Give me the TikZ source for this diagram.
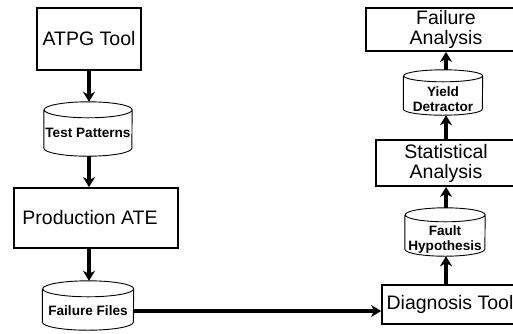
\documentclass[tikz,border=0pt]{standalone}
\usepackage{fontspec}
\setmainfont{Liberation Sans}
\usetikzlibrary{arrows.meta}
\tikzset{
  boxtext/.style={inner sep=0pt, font=\fontsize{19.5}{20}\selectfont, align=center},
  box/.style={boxtext, draw, line width=1.8pt},
  cylbody/.style={inner sep=0pt},
  cyltext/.style={font=\bfseries\fontsize{13.6}{15}\selectfont, align=center, inner sep=0pt},
  cylline/.style={line width=0.9pt},
  arr/.style={line width=3.5pt, -{Stealth[length=10pt,width=12pt,inset=3pt]}},
}
\newcommand\drumat[8]{%
  \node[cylbody, minimum width={2*#5pt}, minimum height={(#4-#3)*1pt}] (#1) at (#2,{(#3+#4)/2}) {};
  \draw[cylline] ([yshift=-#6pt]#1.north west) -- ([yshift=#6pt]#1.south west)
    arc[start angle=180,end angle=360,x radius=#5pt,y radius=#6pt]
    -- ([yshift=-#6pt]#1.north east)
    arc[start angle=0,end angle=180,x radius=#5pt,y radius=#6pt]
    arc[start angle=180,end angle=360,x radius=#5pt,y radius=#6pt];
  \node[cyltext] (#1-t) at (#2,#8) {#7};
}
\begin{document}
\begin{tikzpicture}[x=1pt,y=-1pt]
\useasboundingbox (0,0) rectangle (513,333);
\clip (0,0) rectangle (513,333);
% left column
\node[box, minimum width=104pt, minimum height=62pt] (atpg) at (89,39) {ATPG Tool};
\drumat{tp}{88}{102}{156}{44}{8}{Test Patterns}{133}
\node[box, minimum width=164pt, minimum height=60pt,
      label={[boxtext, xshift=-6pt]center:Production ATE}] (ate) at (96,218) {};
\drumat{ff}{88}{281}{330}{45.5}{8}{Failure Files}{311}
% right column
\node[box, minimum width=136pt, minimum height=39pt] (diag) at (450,304.5) {Diagnosis Tool};
\drumat{fh}{445}{208}{256}{40}{7}{Fault\\Hypothesis}{239.5}
\node[box, minimum width=140pt, minimum height=46pt] (stat) at (446,163) {Statistical\\Analysis};
\drumat{yd}{443}{70}{115}{39.5}{6}{Yield\\Detractor}{99.5}
\node[box, minimum width=160pt, minimum height=43pt] (fa) at (446,29.5) {Failure\\Analysis};
% connectors
\draw[arr] (atpg.south) -- (atpg.south |- tp.north);
\draw[arr] (tp.south -| atpg.south) -- (ate.north -| atpg.south);
\draw[arr] (ate.south -| atpg.south) -- (ff.north -| atpg.south);
\draw[arr] (ff-t -| ff.east) -- (ff-t -| diag.west);
\draw[arr] (diag.north -| stat.north) -- (fh.south -| stat.north);
\draw[arr] (fh.north -| stat.north) -- (stat.south);
\draw[arr] (stat.north) -- (stat.north |- yd.south);
\draw[arr] (yd.north -| stat.north) -- (fa.south -| stat.north);
\end{tikzpicture}
\end{document}
